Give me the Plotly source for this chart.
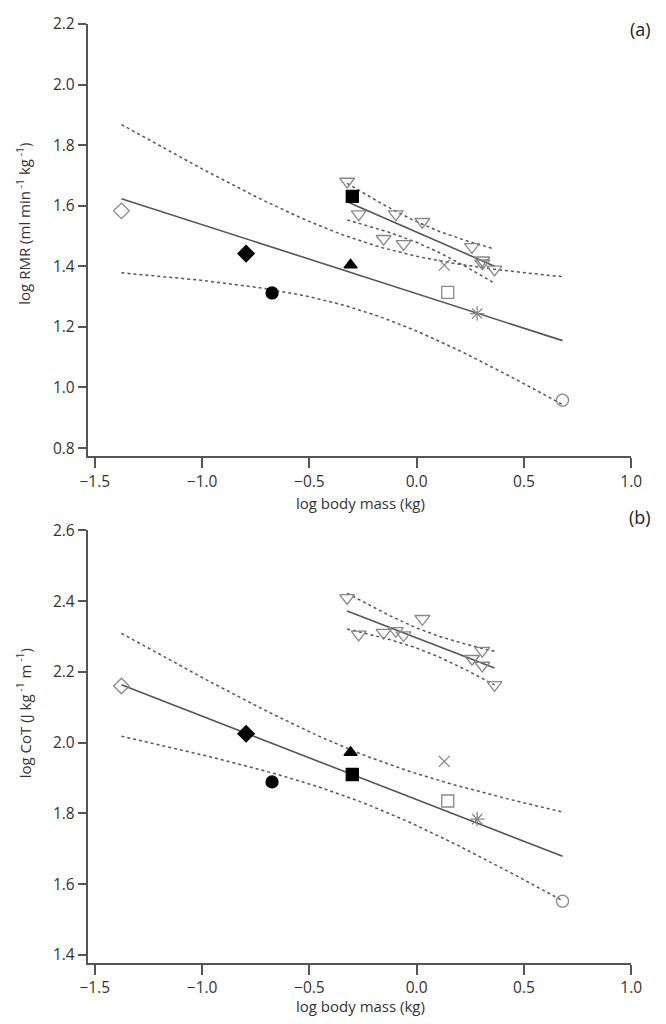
import numpy as np
import plotly.graph_objects as go

# ---------------- data ----------------
species = ["open diamond", "black diamond", "black circle", "black triangle",
           "black square", "cross", "open square", "asterisk", "open circle"]
log_mass = [-1.376, -0.795, -0.674, -0.308, -0.300, 0.129, 0.145, 0.282, 0.680]
log_rmr = [1.583, 1.442, 1.312, 1.404, 1.631, 1.404, 1.314, 1.244, 0.958]
log_cot = [2.160, 2.025, 1.889, 1.972, 1.910, 1.947, 1.835, 1.784, 1.552]

tri_mass = [-0.324, -0.270, -0.154, -0.097, -0.061, 0.027, 0.258, 0.306, 0.306, 0.363]
tri_rmr = [1.680, 1.572, 1.491, 1.572, 1.474, 1.547, 1.464, 1.420, 1.410, 1.390]
tri_cot = [2.409, 2.306, 2.311, 2.316, 2.304, 2.350, 2.237, 2.260, 2.218, 2.163]

x_ticks = [-1.5, -1.0, -0.5, 0.0, 0.5, 1.0]
rmr_ticks = [0.8, 1.0, 1.2, 1.4, 1.6, 1.8, 2.0, 2.2]
cot_ticks = [1.4, 1.6, 1.8, 2.0, 2.2, 2.4, 2.6]

# Student t (0.975) for the residual degrees of freedom
T975 = {7: 2.365, 8: 2.306}

# ---------------- styles ----------------
GREY = "#888888"
LINE = "#555555"
sym = {
    "open diamond": ("diamond-open", 12, GREY),
    "black diamond": ("diamond", 12.5, "black"),
    "black circle": ("circle", 12, "black"),
    "black triangle": ("triangle-up", 11.5, "black"),
    "black square": ("square", 12, "black"),
    "cross": ("x-thin-open", 11, GREY),
    "open square": ("square-open", 12, GREY),
    "asterisk": ("asterisk-open", 12, GREY),
    "open circle": ("circle-open", 12, GREY),
}


def fit_band(x, y, npts=60):
    x = np.asarray(x, float)
    y = np.asarray(y, float)
    n = len(x)
    xb = x.mean()
    sxx = ((x - xb) ** 2).sum()
    b = ((x - xb) * (y - y.mean())).sum() / sxx
    a = y.mean() - b * xb
    s = np.sqrt(((y - (a + b * x)) ** 2).sum() / (n - 2))
    xs = np.linspace(x.min(), x.max(), npts)
    yh = a + b * xs
    half = T975[n - 2] * s * np.sqrt(1.0 / n + (xs - xb) ** 2 / sxx)
    return xs, yh, yh - half, yh + half


fig = go.Figure()


def add_panel(xa, ya, yvals, tri_y):
    for xx, yy in [(log_mass, yvals), (tri_mass, tri_y)]:
        xs, yh, lo, hi = fit_band(xx, yy)
        fig.add_trace(go.Scatter(x=xs, y=yh, mode="lines", xaxis=xa, yaxis=ya,
                                 line=dict(color=LINE, width=1.6), showlegend=False,
                                 hoverinfo="skip"))
        for band in (lo, hi):
            fig.add_trace(go.Scatter(x=xs, y=band, mode="lines", xaxis=xa, yaxis=ya,
                                     line=dict(color=LINE, width=1.5, dash="dot"),
                                     showlegend=False, hoverinfo="skip"))
    fig.add_trace(go.Scatter(x=tri_mass, y=tri_y, mode="markers", xaxis=xa, yaxis=ya,
                             marker=dict(symbol="triangle-down-open", size=13,
                                         color=GREY, line=dict(color=GREY, width=1.3)),
                             showlegend=False))
    for sp, xv, yv in zip(species, log_mass, yvals):
        s, size, col = sym[sp]
        fig.add_trace(go.Scatter(x=[xv], y=[yv], mode="markers", xaxis=xa, yaxis=ya,
                                 name=sp, showlegend=False,
                                 marker=dict(symbol=s, size=size, color=col,
                                             line=dict(color=col, width=1.3))))


add_panel("x", "y", log_rmr, tri_rmr)
add_panel("x2", "y2", log_cot, tri_cot)

# the page body has an 8 px margin: draw a figure 16 px smaller and shift by 8
OFF = 8
W, H = 666 - 2 * OFF, 1024 - 2 * OFF


def px(v):
    return (v - OFF) / W


def py(v):
    return (H - (v - OFF)) / H


xdom = [px(81.7), px(641.7)]
top_dom = [py(451), py(12)]
bot_dom = [py(965), py(526)]

FONT = "Open Sans"
TICKFONT = dict(family=FONT, size=15.5, color="#333333")
axis_common = dict(showline=True, linecolor=LINE, linewidth=1.5, ticks="outside",
                   ticklen=10, tickwidth=1.5, tickcolor=LINE, showgrid=False,
                   zeroline=False, tickfont=TICKFONT, tickformat=".1f")

fig.update_layout(
    width=W, height=H, margin=dict(l=0, r=0, t=0, b=0),
    paper_bgcolor="white", plot_bgcolor="white",
    xaxis=dict(domain=xdom, range=[-1.534, 1.0], tickvals=x_ticks, anchor="y", **axis_common),
    yaxis=dict(domain=top_dom, range=[0.7725, 2.2], tickvals=rmr_ticks, anchor="x",
               **{**axis_common, "ticklen": 8}),
    xaxis2=dict(domain=xdom, range=[-1.534, 1.0], tickvals=x_ticks, anchor="y2", **axis_common),
    yaxis2=dict(domain=bot_dom, range=[1.378, 2.6], tickvals=cot_ticks, anchor="x2",
                **{**axis_common, "ticklen": 8}),
)

TITLEFONT = dict(family=FONT, size=15, color="#333333")
ann = [
    dict(text="(a)", x=px(664), y=py(17), xanchor="right", yanchor="middle",
         font=dict(family=FONT, size=18, color="#222222")),
    dict(text="(b)", x=px(664), y=py(512), xanchor="right", yanchor="middle",
         font=dict(family=FONT, size=18, color="#222222")),
    dict(text="log body mass (kg)", x=px(363), y=py(498), xanchor="center",
         yanchor="middle", font=TITLEFONT),
    dict(text="log body mass (kg)", x=px(363), y=py(1009), xanchor="center",
         yanchor="middle", font=TITLEFONT),
    dict(text="log RMR (ml min<sup> -1</sup> kg<sup> -1</sup>)", x=px(16), y=py(215),
         xanchor="center", yanchor="middle", textangle=-90, font=TITLEFONT),
    dict(text="log CoT (J kg<sup> -1</sup> m<sup> -1</sup>)", x=px(16), y=py(712),
         xanchor="center", yanchor="middle", textangle=-90, font=TITLEFONT),
]
for a in ann:
    a.update(xref="paper", yref="paper", showarrow=False)
fig.update_layout(annotations=ann)

fig.write_html("out.html")
